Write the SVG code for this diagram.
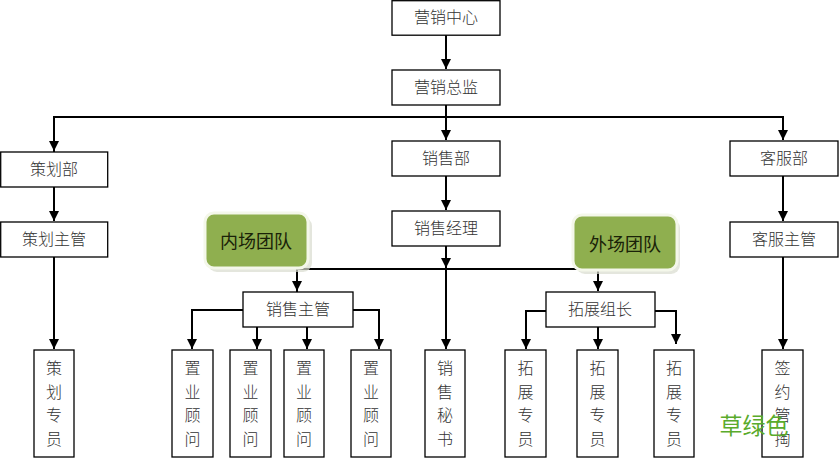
<svg xmlns="http://www.w3.org/2000/svg" width="839" height="458" viewBox="0 0 839 458">
<defs>
<style>
.box{fill:#fff;stroke:#000;stroke-width:1.3}
.t{font-family:"Noto Sans CJK SC","Noto Sans CJK JP",sans-serif;font-size:16px;fill:#333;text-anchor:middle;font-weight:300}
.tv{font-family:"Noto Sans CJK SC","Noto Sans CJK JP",sans-serif;font-size:16px;fill:#333;text-anchor:middle;font-weight:300}
.g{fill:#8faf4f;stroke:#f4f7ea;stroke-width:3}
.gt{font-family:"Noto Sans CJK SC","Noto Sans CJK JP",sans-serif;font-size:18px;fill:#1a2208;text-anchor:middle}
.ln{fill:none;stroke:#000;stroke-width:2}
</style>
<marker id="ah" markerWidth="10" markerHeight="10" refX="10" refY="5" orient="auto" markerUnits="userSpaceOnUse" viewBox="0 0 10 10">
<path d="M0,0 L10,5 L0,10 Z" fill="#000"/>
</marker>
</defs>

<g id="connectors">
<path class="ln" d="M446,35 V69" marker-end="url(#ah)"/>
<path class="ln" d="M54,152 V117 H783 V140" marker-end="url(#ah)"/>
<path class="ln" d="M54,117 V151" marker-end="url(#ah)"/>
<path class="ln" d="M446,105 V140" marker-end="url(#ah)"/>
<path class="ln" d="M54,187 V221" marker-end="url(#ah)"/>
<path class="ln" d="M446,176 V210" marker-end="url(#ah)"/>
<path class="ln" d="M783,176 V221" marker-end="url(#ah)"/>
<path class="ln" d="M446,246 V268" marker-end="url(#ah)"/>
<path class="ln" d="M446,268 V349" marker-end="url(#ah)"/>
<path class="ln" d="M297,292 V269 H598 V291" marker-end="url(#ah)"/>
<path class="ln" d="M297,269 V291" marker-end="url(#ah)"/>
<path class="ln" d="M54,257 V349" marker-end="url(#ah)"/>
<path class="ln" d="M783,245 V349" marker-end="url(#ah)"/>
<path class="ln" d="M243,310 H192 V349" marker-end="url(#ah)"/>
<path class="ln" d="M257,327 V349" marker-end="url(#ah)"/>
<path class="ln" d="M307,327 V349" marker-end="url(#ah)"/>
<path class="ln" d="M353,310 H379 V349" marker-end="url(#ah)"/>
<path class="ln" d="M550,311 H526 V349" marker-end="url(#ah)"/>
<path class="ln" d="M598,327 V349" marker-end="url(#ah)"/>
<path class="ln" d="M650,311 H676 V344" marker-end="url(#ah)"/>
</g>

<g id="n-center"><rect class="box" x="392" y="0.7" width="108" height="34.5"/><text class="t" x="446" y="23">营销中心</text></g>
<g id="n-director"><rect class="box" x="392" y="70" width="108" height="35"/><text class="t" x="446" y="93">营销总监</text></g>
<g id="n-plan"><rect class="box" x="0.7" y="152" width="107" height="35"/><text class="t" x="54" y="175">策划部</text></g>
<g id="n-sales"><rect class="box" x="392" y="141" width="108" height="35"/><text class="t" x="446" y="164">销售部</text></g>
<g id="n-service"><rect class="box" x="730" y="141" width="108" height="35"/><text class="t" x="784" y="164">客服部</text></g>
<g id="n-plan-mgr"><rect class="box" x="0.7" y="222" width="107" height="35"/><text class="t" x="54" y="245">策划主管</text></g>
<g id="n-sales-mgr"><rect class="box" x="392" y="211" width="108" height="35"/><text class="t" x="446" y="234">销售经理</text></g>
<g id="n-service-mgr"><rect class="box" x="730" y="222" width="108" height="35"/><text class="t" x="784" y="245">客服主管</text></g>

<g id="n-inner">
<rect x="208" y="217" width="104" height="55" rx="9" fill="#d8dccf" opacity="0.7"/>
<rect class="g" x="205" y="213" width="103" height="55" rx="9"/>
<text class="gt" x="256" y="248">内场团队</text>
</g>
<g id="n-outer">
<rect x="576" y="219" width="104" height="55" rx="9" fill="#d8dccf" opacity="0.7"/>
<rect class="g" x="573" y="215" width="104" height="55" rx="9"/>
<text class="gt" x="625" y="251">外场团队</text>
</g>

<g id="n-sales-sup"><rect class="box" x="243" y="292" width="110" height="35"/><text class="t" x="298" y="315">销售主管</text></g>
<g id="n-expand-lead"><rect class="box" x="546" y="292" width="109" height="35"/><text class="t" x="600" y="315">拓展组长</text></g>

<g id="n-plan-staff"><rect class="box" x="34" y="350" width="40" height="107"/>
<text class="tv" x="54"><tspan x="54" y="374">策</tspan><tspan x="54" y="398">划</tspan><tspan x="54" y="421">专</tspan><tspan x="54" y="445">员</tspan></text></g>
<g id="n-consult1"><rect class="box" x="172" y="350" width="41" height="107"/>
<text class="tv"><tspan x="192.5" y="374">置</tspan><tspan x="192.5" y="398">业</tspan><tspan x="192.5" y="421">顾</tspan><tspan x="192.5" y="445">问</tspan></text></g>
<g id="n-consult2"><rect class="box" x="230" y="350" width="41" height="107"/>
<text class="tv"><tspan x="250.5" y="374">置</tspan><tspan x="250.5" y="398">业</tspan><tspan x="250.5" y="421">顾</tspan><tspan x="250.5" y="445">问</tspan></text></g>
<g id="n-consult3"><rect class="box" x="284" y="350" width="40" height="107"/>
<text class="tv"><tspan x="304" y="374">置</tspan><tspan x="304" y="398">业</tspan><tspan x="304" y="421">顾</tspan><tspan x="304" y="445">问</tspan></text></g>
<g id="n-consult4"><rect class="box" x="351" y="350" width="40" height="107"/>
<text class="tv"><tspan x="371" y="374">置</tspan><tspan x="371" y="398">业</tspan><tspan x="371" y="421">顾</tspan><tspan x="371" y="445">问</tspan></text></g>
<g id="n-secretary"><rect class="box" x="425" y="350" width="40" height="107"/>
<text class="tv"><tspan x="445" y="374">销</tspan><tspan x="445" y="398">售</tspan><tspan x="445" y="421">秘</tspan><tspan x="445" y="445">书</tspan></text></g>
<g id="n-expand1"><rect class="box" x="505" y="350" width="41" height="107"/>
<text class="tv"><tspan x="525.5" y="374">拓</tspan><tspan x="525.5" y="398">展</tspan><tspan x="525.5" y="421">专</tspan><tspan x="525.5" y="445">员</tspan></text></g>
<g id="n-expand2"><rect class="box" x="577" y="350" width="41" height="107"/>
<text class="tv"><tspan x="597.5" y="374">拓</tspan><tspan x="597.5" y="398">展</tspan><tspan x="597.5" y="421">专</tspan><tspan x="597.5" y="445">员</tspan></text></g>
<g id="n-expand3"><rect class="box" x="654" y="350" width="40" height="107"/>
<text class="tv"><tspan x="674" y="374">拓</tspan><tspan x="674" y="398">展</tspan><tspan x="674" y="421">专</tspan><tspan x="674" y="445">员</tspan></text></g>
<g id="n-sign"><rect class="box" x="762" y="350" width="41" height="107"/>
<text class="tv"><tspan x="782.5" y="374">签</tspan><tspan x="782.5" y="398">约</tspan><tspan x="782.5" y="421">管</tspan><tspan x="782.5" y="445">掏</tspan></text></g>

<text x="754" y="434" font-family="Noto Sans CJK SC, sans-serif" font-size="23" fill="#5aab2c" text-anchor="middle">草绿色</text>
</svg>
